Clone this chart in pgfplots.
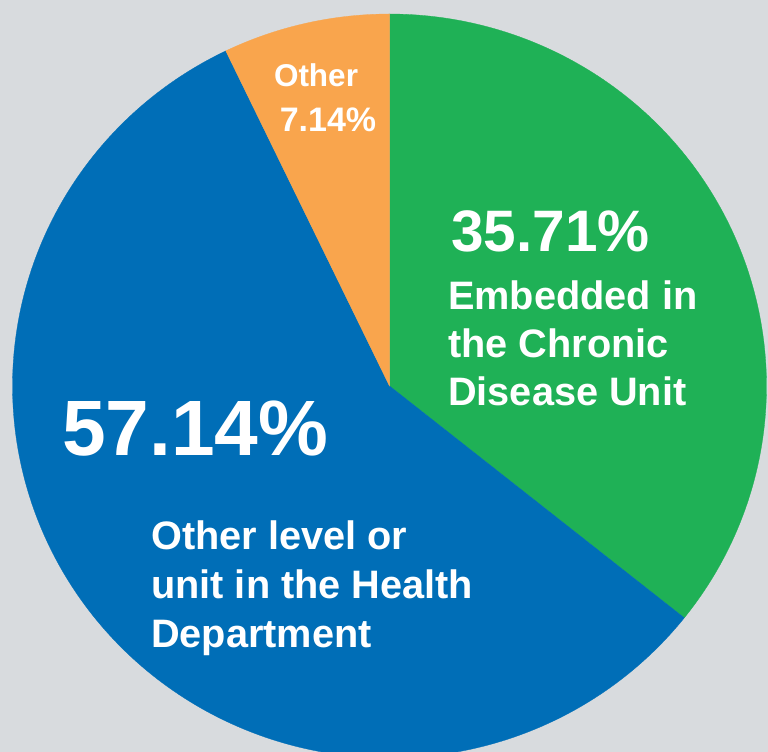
\documentclass[border=0pt]{standalone}
\usepackage{pgfplots}
\pgfplotsset{compat=1.18}
\usepackage{fontspec}
\setmainfont{Liberation Sans}
\definecolor{bggray}{RGB}{216,219,222}
\definecolor{pgreen}{RGB}{31,177,86}
\definecolor{pblue}{RGB}{0,110,183}
\definecolor{porange}{RGB}{249,165,77}
\def\vG{35.71}
\def\vB{57.14}
\def\vO{7.14}
\def\cx{389.5}
\def\cy{366}
\def\rx{377}
\def\ry{372}
\begin{document}
\begin{tikzpicture}
\pgfmathsetmacro\gA{90-3.6*\vG}
\pgfmathsetmacro\bA{\gA-3.6*\vB}
\pgfmathsetmacro\oA{\bA+360}
\begin{axis}[
  scale only axis, width=768bp, height=752bp,
  xmin=0, xmax=768, ymin=0, ymax=752,
  hide axis, clip=true,
]
\fill[bggray] (axis cs:0,0) rectangle (axis cs:768,752);
\addplot[fill=pgreen, draw=pgreen, line width=0.3pt, domain=\gA:90, samples=200, variable=\t]
  ({\cx+\rx*cos(\t)},{\cy+\ry*sin(\t)}) -- (axis cs:\cx,\cy) -- cycle;
\addplot[fill=pblue, draw=pblue, line width=0.3pt, domain=\bA:\gA, samples=300, variable=\t]
  ({\cx+\rx*cos(\t)},{\cy+\ry*sin(\t)}) -- (axis cs:\cx,\cy) -- cycle;
\addplot[fill=porange, draw=porange, line width=0.3pt, domain=90:\oA, samples=80, variable=\t]
  ({\cx+\rx*cos(\t)},{\cy+\ry*sin(\t)}) -- (axis cs:\cx,\cy) -- cycle;
% labels
\begin{scope}[every node/.style={text=white, font=\bfseries, inner sep=0pt}]
\node[anchor=base, font=\fontsize{31.5bp}{36bp}\selectfont\bfseries] at (axis cs:316,{752-87}) {Other};
\node[anchor=base, font=\fontsize{34bp}{36bp}\selectfont\bfseries] at (axis cs:328,{752-132}) {7.14\%};
\node[anchor=base west, font=\fontsize{58.5bp}{60bp}\selectfont\bfseries] at (axis cs:451,{752-252}) {35.71\%};
\node[anchor=base west, font=\fontsize{39.7bp}{40bp}\selectfont\bfseries] at (axis cs:448,{752-310}) {Embedded in};
\node[anchor=base west, font=\fontsize{39.7bp}{40bp}\selectfont\bfseries] at (axis cs:448,{752-358}) {the Chronic};
\node[anchor=base west, font=\fontsize{39.7bp}{40bp}\selectfont\bfseries] at (axis cs:448,{752-406}) {Disease Unit};
\node[anchor=base west, font=\fontsize{78.5bp}{80bp}\selectfont\bfseries] at (axis cs:62,{752-456}) {57.14\%};
\node[anchor=base west, font=\fontsize{39.7bp}{40bp}\selectfont\bfseries] at (axis cs:151,{752-550}) {Other level or};
\node[anchor=base west, font=\fontsize{39.7bp}{40bp}\selectfont\bfseries] at (axis cs:151,{752-599}) {unit in the Health};
\node[anchor=base west, font=\fontsize{39.7bp}{40bp}\selectfont\bfseries] at (axis cs:151,{752-648}) {Department};
\end{scope}
\end{axis}
\end{tikzpicture}
\end{document}
